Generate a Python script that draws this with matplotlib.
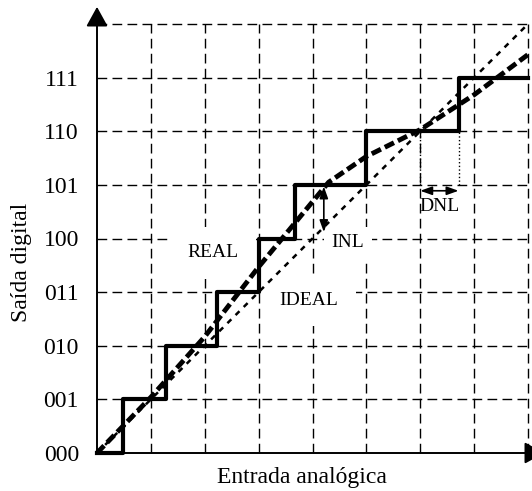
import matplotlib
matplotlib.use('Agg')
import matplotlib.pyplot as plt

# codigos de saida (eixo y)
codes = ['000', '001', '010', '011', '100', '101', '110', '111']

# curva real em degraus: pontos de transicao e nivel
real_x = [0, 0.48, 1.29, 2.22, 3.0, 3.67, 5.0, 6.71, 8.0]
real_y = [0, 1, 2, 3, 4, 5, 6, 7, 7]

# reta ideal
ideal_x = [0, 8]
ideal_y = [0, 8]

# curva media da resposta real (tracejado grosso)
fit_x = [0, 1, 2, 3, 4.3, 5, 6, 7, 8]
fit_y = [0, 1.04, 2.17, 3.47, 5.05, 5.53, 6.03, 6.68, 7.43]

# marcas de INL e DNL
inl_x = 4.21
inl_y = [4.12, 4.97]
dnl_x = [6.0, 6.71]
dnl_y = 4.89
dnl_guide_y = [5.0, 6.0]

plt.rcParams['font.family'] = ['Liberation Serif', 'DejaVu Serif']

fig = plt.figure(figsize=(5.32, 4.91), dpi=100)
ax = fig.add_axes([97 / 532, 38 / 491, 431 / 532, 429 / 491])
ax.set_xlim(0, 8)
ax.set_ylim(0, 8)
for s in ax.spines.values():
    s.set_visible(False)

# grade tracejada
for k in range(1, 9):
    ax.plot([k, k], [0, 8], color='k', lw=1.0, dashes=(7, 3.8), zorder=1, clip_on=False)
    ax.plot([0, 8], [k, k], color='k', lw=1.0, dashes=(7, 3.8), zorder=1, clip_on=False)

ax.set_xticks([])
ax.set_yticks(range(8))
ax.set_yticklabels(codes, fontsize=17)
ax.tick_params(axis='y', length=0, pad=13)

# eixos com setas
ax.annotate('', xy=(0, 8.32), xytext=(0, 0), annotation_clip=False,
            arrowprops=dict(arrowstyle='-|>,head_length=0.6,head_width=0.33',
                            mutation_scale=20, lw=1.4, color='k', shrinkA=0, shrinkB=0))
ax.annotate('', xy=(8.3, 0), xytext=(0, 0), annotation_clip=False,
            arrowprops=dict(arrowstyle='-|>,head_length=0.6,head_width=0.33',
                            mutation_scale=20, lw=1.4, color='k', shrinkA=0, shrinkB=0))

# linhas
ax.plot(ideal_x, ideal_y, color='k', lw=1.8, dashes=(2.2, 2.4), zorder=4, clip_on=False)
ax.plot(fit_x, fit_y, color='k', lw=3.5, dashes=(2.1, 0.9), zorder=4, clip_on=False)
ax.step(real_x, real_y, where='post', color='k', lw=3.0, zorder=5, clip_on=False)

# rotulos
box = dict(facecolor='white', edgecolor='none', boxstyle='square,pad=0.9')
ax.text(2.15, 3.73, 'REAL', fontsize=14, ha='center', va='center', bbox=box, zorder=2)
ax.text(3.93, 2.85, 'IDEAL', fontsize=14, ha='center', va='center', bbox=box, zorder=2)
ax.text(4.66, 3.92, 'INL', fontsize=14, ha='center', va='center', zorder=2,
        bbox=dict(facecolor='white', edgecolor='none', boxstyle='square,pad=0.4'))
ax.text(6.36, 4.59, 'DNL', fontsize=14, ha='center', va='center', zorder=2)

# setas INL e DNL
ax.annotate('', xy=(inl_x, inl_y[1]), xytext=(inl_x, inl_y[0]), zorder=6,
            arrowprops=dict(arrowstyle='<|-|>,head_length=0.5,head_width=0.18',
                            mutation_scale=14, lw=1.2, color='k', shrinkA=0, shrinkB=0))
ax.annotate('', xy=(dnl_x[1], dnl_y), xytext=(dnl_x[0], dnl_y), zorder=6,
            arrowprops=dict(arrowstyle='<|-|>,head_length=0.5,head_width=0.18',
                            mutation_scale=14, lw=1.2, color='k', shrinkA=0, shrinkB=0))
for xg in dnl_x:
    ax.plot([xg, xg], dnl_guide_y, color='k', lw=1.0, ls=':', zorder=3)

fig.text(22 / 532, 1 - 262 / 491, 'Saída digital', rotation=90, fontsize=17,
         ha='center', va='center')
fig.text(302 / 532, 1 - 478 / 491, 'Entrada analógica', fontsize=17,
         ha='center', va='center')

fig.savefig('out.png', dpi=100, facecolor='white')
